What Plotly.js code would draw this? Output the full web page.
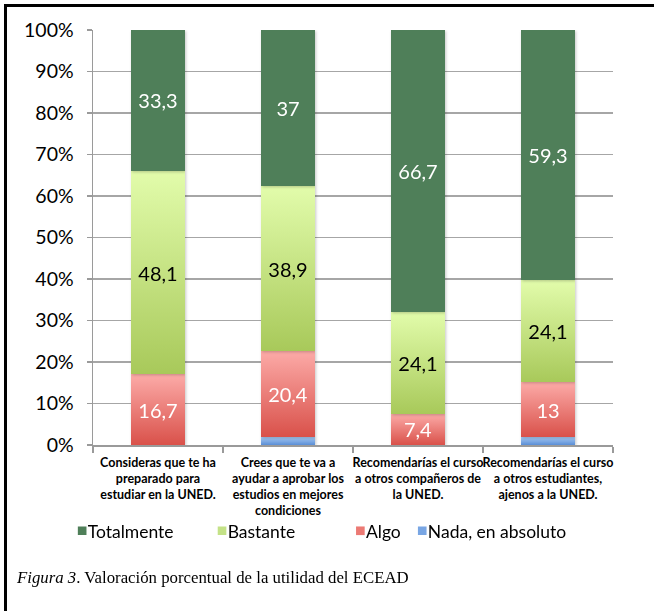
<!DOCTYPE html>
<html>
<head>
<meta charset="utf-8">
<script src="https://cdn.plot.ly/plotly-3.0.1.min.js"></script>
<style>
  html, body { margin: 0; padding: 0; background: #fff; }
  #wrap { position: relative; width: 654px; height: 611px; overflow: hidden; }
  #chart { position: absolute; left: 0; top: 0; width: 654px; height: 611px; }
  #frame { position: absolute; left: 4px; top: 4px; width: 720px; height: 700px;
           border-left: 3px solid #000; border-top: 3px solid #000; pointer-events: none; }
</style>
</head>
<body>
<div id="wrap">
  <div id="chart"></div>
  <div id="frame"></div>
</div>
<script>
// Categories (questions) and percentages per answer
const categories = [
  'Consideras que te ha<br>preparado para<br>estudiar en la UNED.',
  'Crees que te va a<br>ayudar a aprobar los<br>estudios en mejores<br>condiciones',
  'Recomendarías el curso<br>a otros compañeros de<br>la UNED.',
  'Recomendarías el curso<br>a otros estudiantes,<br>ajenos a la UNED.'
];
const totalmente = [33.3, 37, 66.7, 59.3];
const bastante   = [48.1, 38.9, 24.1, 24.1];
const algo       = [16.7, 20.4, 7.4, 13];
const nada       = [0, 1.9, 0, 1.9];
const yTickVals  = [0, 10, 20, 30, 40, 50, 60, 70, 80, 90, 100];
const caption    = '<i>Figura 3</i>. Valoración porcentual de la utilidad del ECEAD';

const fmt = v => String(v).replace('.', ',');
const labelFont = { family: 'Lato, sans-serif', size: 20 };

function barTrace(name, values, color, textColor, legendId, showText) {
  return {
    type: 'bar', name: name, x: categories, y: values,
    width: 0.41,
    marker: { color: color, line: { width: 0 } },
    text: showText ? values.map(fmt) : values.map(() => ''),
    texttemplate: '%{text}',
    textposition: showText ? 'inside' : 'none',
    insidetextanchor: 'middle',
    constraintext: 'none',
    textfont: Object.assign({ color: textColor }, labelFont),
    hoverinfo: 'skip',
    legend: legendId
  };
}

// bottom to top in the stack
const data = [
  barTrace('Nada, en absoluto', nada, '#79a6e4', '#fff', 'legend4', false),
  barTrace('Algo', algo, '#ec7a74', '#fff', 'legend3', true),
  barTrace('Bastante', bastante, '#c4e287', '#000', 'legend2', true),
  barTrace('Totalmente', totalmente, '#4f7f59', '#fff', 'legend', true)
];

const legendBase = {
  orientation: 'h', yanchor: 'middle', xanchor: 'left', y: -0.207,
  font: { family: 'Lato, sans-serif', size: 17.5, color: '#000' },
  bgcolor: 'rgba(0,0,0,0)', itemclick: false, itemdoubleclick: false
};

const layout = {
  width: 654, height: 611,
  margin: { l: 93, r: 41, t: 30, b: 166 },
  paper_bgcolor: '#fff', plot_bgcolor: '#fff',
  barmode: 'stack', barnorm: 'percent',
  showlegend: true,
  font: { family: 'Lato, sans-serif', color: '#000' },
  xaxis: {
    type: 'category',
    tickson: 'boundaries', ticks: 'outside', ticklen: 6, tickwidth: 1.5, tickcolor: '#9a9a9a',
    showline: true, linecolor: '#9a9a9a', linewidth: 1.5,
    showgrid: false,
    tickfont: { family: 'Lato, sans-serif', size: 12.5, weight: 'bold', color: '#000' },
    ticklabelstandoff: 5,
    tickangle: 0, automargin: false
  },
  yaxis: {
    range: [0, 100], tickvals: yTickVals, ticktext: yTickVals.map(v => v + '%'),
    ticks: 'outside', ticklen: 5, tickwidth: 1.5, tickcolor: '#9a9a9a',
    showline: true, linecolor: '#9a9a9a', linewidth: 1.5,
    showgrid: true, gridcolor: '#a6a6a6', gridwidth: 1.5,
    zeroline: false,
    tickfont: { family: 'Lato, sans-serif', size: 19.5, color: '#000' },
    ticklabelstandoff: 9,
    automargin: false, fixedrange: true
  },
  legend:  Object.assign({}, legendBase, { x: -0.087 }),
  legend2: Object.assign({}, legendBase, { x: 0.182 }),
  legend3: Object.assign({}, legendBase, { x: 0.448 }),
  legend4: Object.assign({}, legendBase, { x: 0.567 }),
  annotations: [{
    xref: 'paper', yref: 'paper', x: -0.152, y: -0.32,
    xanchor: 'left', yanchor: 'middle', showarrow: false,
    text: caption,
    font: { family: '"Liberation Serif", "Times New Roman", serif', size: 16.8, color: '#000' }
  }]
};

// vertical gradients for the bar fills (light at the top, darker at the bottom)
const gradients = {
  'Bastante': ['#e2fcab', '#a8c95a'],
  'Algo': ['#fcaba8', '#d9514a'],
  'Nada, en absoluto': ['#a9cbf4', '#5a8ed6']
};

function applyGradients(gd) {
  const svg = gd.querySelector('.main-svg');
  const NS = 'http://www.w3.org/2000/svg';
  let defs = svg.querySelector('defs');
  if (!defs) { defs = document.createElementNS(NS, 'defs'); svg.insertBefore(defs, svg.firstChild); }
  const ids = {};
  Object.keys(gradients).forEach((name, i) => {
    const g = document.createElementNS(NS, 'linearGradient');
    const id = 'barfill' + i;
    g.setAttribute('id', id);
    g.setAttribute('x1', '0'); g.setAttribute('y1', '0');
    g.setAttribute('x2', '0'); g.setAttribute('y2', '1');
    gradients[name].forEach((c, k) => {
      const s = document.createElementNS(NS, 'stop');
      s.setAttribute('offset', k === 0 ? '0' : '1');
      s.setAttribute('stop-color', c);
      g.appendChild(s);
    });
    defs.appendChild(g);
    ids[name] = id;
  });
  const traces = gd.querySelectorAll('.barlayer .trace');
  traces.forEach((t, i) => {
    const name = data[i].name;
    t.style.filter = 'drop-shadow(1.5px 1px 1.5px rgba(0,0,0,0.22))';
    if (ids[name]) t.querySelectorAll('path').forEach(p => { p.style.fill = 'url(#' + ids[name] + ')'; });
  });
  // smaller legend squares, sitting just left of their text
  gd.querySelectorAll('g.traces').forEach(item => {
    const txt = item.querySelector('text.legendtext');
    const name = txt ? txt.textContent : '';
    const pts = item.querySelector('.legendpoints');
    if (pts) pts.setAttribute('transform', 'translate(20,0) scale(0.72)');
    if (ids[name]) item.querySelectorAll('.legendpoints path').forEach(p => { p.style.fill = 'url(#' + ids[name] + ')'; });
  });
}

Plotly.newPlot('chart', data, layout, { staticPlot: true, displayModeBar: false })
  .then(applyGradients);
</script>
</body>
</html>
